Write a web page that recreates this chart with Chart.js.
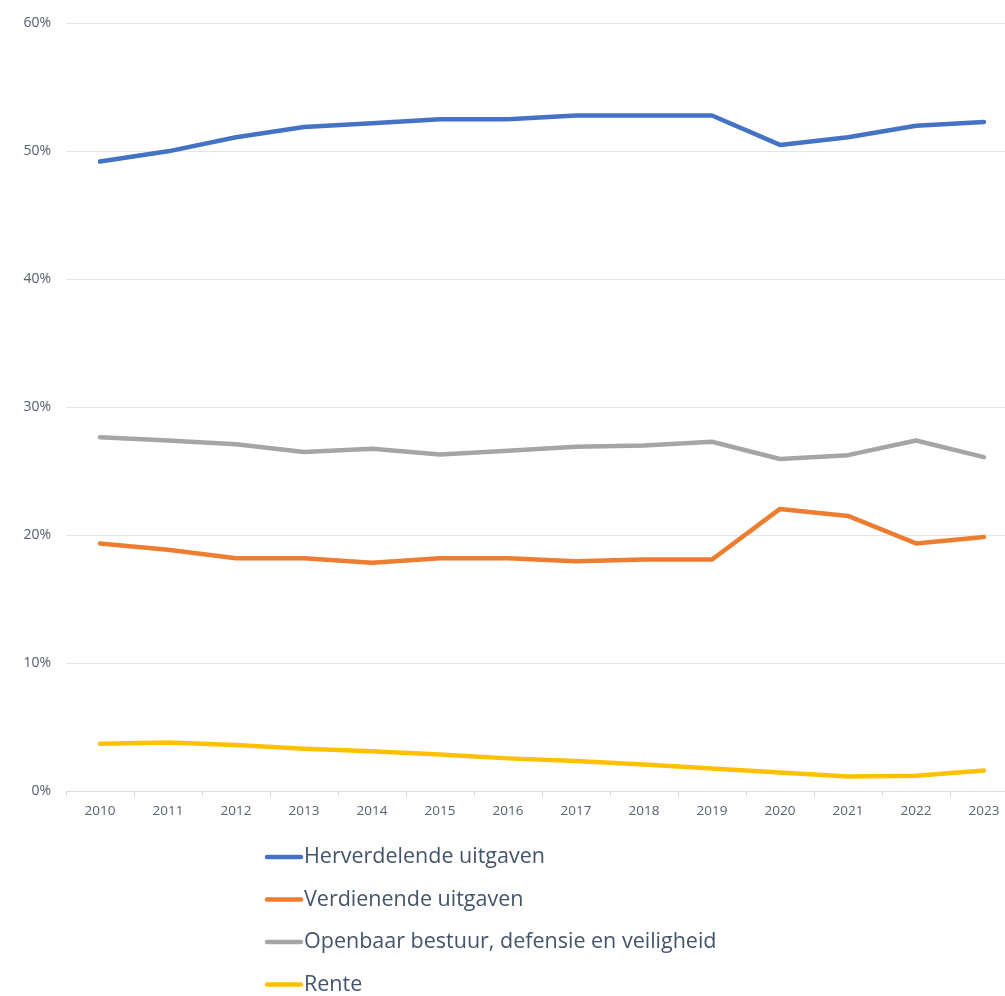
<!DOCTYPE html>
<html>
<head>
<meta charset="utf-8">
<script src="https://cdn.jsdelivr.net/npm/chart.js@4"></script>
<style>
  html, body { margin: 0; padding: 0; background: #ffffff; overflow: hidden; }
  #wrap { position: relative; width: 1025px; height: 996px; }
</style>
</head>
<body>
<div id="wrap"><canvas id="c"></canvas></div>
<script>
const years = ['2010','2011','2012','2013','2014','2015','2016','2017','2018','2019','2020','2021','2022','2023'];
const herverdelende = [49.2, 50.0, 51.1, 51.9, 52.2, 52.5, 52.5, 52.8, 52.8, 52.8, 50.5, 51.1, 52.0, 52.3];
const verdienende   = [19.35, 18.85, 18.2, 18.2, 17.85, 18.2, 18.2, 17.95, 18.1, 18.1, 22.05, 21.5, 19.35, 19.85];
const openbaar      = [27.65, 27.4, 27.1, 26.5, 26.75, 26.3, 26.6, 26.9, 27.0, 27.3, 25.95, 26.25, 27.4, 26.1];
const rente         = [3.7, 3.8, 3.6, 3.3, 3.1, 2.85, 2.55, 2.35, 2.07, 1.75, 1.45, 1.13, 1.2, 1.6];
const seriesNames = ['Herverdelende uitgaven', 'Verdienende uitgaven', 'Openbaar bestuur, defensie en veiligheid', 'Rente'];
const seriesColors = ['#4472C4', '#ED7D31', '#A5A5A5', '#FFC000'];
const yTicks = [0, 10, 20, 30, 40, 50, 60];

const textColor = '#56606e';
const legendColor = '#44546a';

const verticalLegend = {
  id: 'verticalLegend',
  afterDraw(chart) {
    const ctx = chart.ctx;
    ctx.save();
    ctx.font = '21.5px "Open Sans", sans-serif';
    ctx.textBaseline = 'middle';
    ctx.textAlign = 'left';
    chart.data.datasets.forEach((ds, i) => {
      const y = 857 + i * 42.5;
      ctx.strokeStyle = ds.borderColor;
      ctx.lineWidth = 4.5;
      ctx.lineCap = 'round';
      ctx.beginPath();
      ctx.moveTo(267, y);
      ctx.lineTo(301, y);
      ctx.stroke();
      ctx.fillStyle = legendColor;
      ctx.fillText(ds.label, 304, y);
    });
    ctx.restore();
  }
};

const dataArrays = [herverdelende, verdienende, openbaar, rente];

new Chart(document.getElementById('c'), {
  type: 'line',
  data: {
    labels: years,
    datasets: dataArrays.map((d, i) => ({
      label: seriesNames[i],
      data: d,
      borderColor: seriesColors[i],
      backgroundColor: seriesColors[i],
      borderWidth: 4.5,
      pointRadius: 0,
      pointHoverRadius: 0,
      tension: 0,
      borderCapStyle: 'round',
      borderJoinStyle: 'round',
      fill: false
    }))
  },
  options: {
    responsive: true,
    maintainAspectRatio: false,
    animation: false,
    layout: { padding: { top: 18, right: 7, bottom: 166, left: 0 } },
    plugins: {
      legend: { display: false },
      tooltip: { enabled: false }
    },
    scales: {
      x: {
        offset: true,
        grid: {
          offset: true,
          drawOnChartArea: false,
          drawTicks: true,
          tickLength: 6,
          color: '#d9dde4'
        },
        border: { display: true, color: '#d9dde4', width: 1 },
        ticks: {
          color: textColor,
          font: { family: '"Open Sans", sans-serif', size: 13.5 },
          padding: 6,
          maxRotation: 0,
          autoSkip: false
        },
        afterFit(scale) { scale.height = 39; }
      },
      y: {
        min: 0,
        max: 60,
        afterBuildTicks(scale) { scale.ticks = yTicks.map(v => ({ value: v })); },
        grid: {
          color: '#e2e5eb',
          drawTicks: false,
          lineWidth: 1
        },
        border: { display: false },
        ticks: {
          color: textColor,
          font: { family: '"Open Sans", sans-serif', size: 14 },
          padding: 15,
          callback: v => v + '%'
        },
        afterFit(scale) { scale.width = 66; }
      }
    }
  },
  plugins: [verticalLegend]
});
</script>
</body>
</html>
